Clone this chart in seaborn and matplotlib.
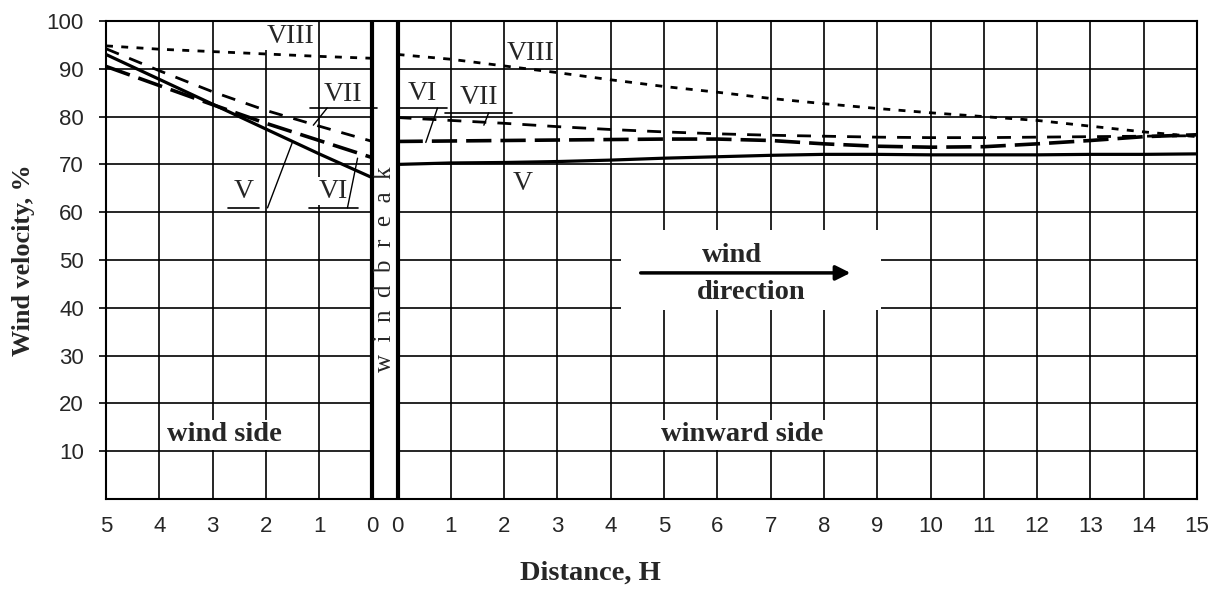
import numpy as np
import pandas as pd
import matplotlib.pyplot as plt
import seaborn as sns
from matplotlib.patches import Rectangle

# distances in tree heights (H) on both sides of the windbreak
distance_lee = [5, 4, 3, 2, 1, 0]
distance_wind = list(range(16))
curve_names = ["V", "VI", "VII", "VIII"]

# wind velocity, % - "wind side" (left of the windbreak)
lee_V = [93.0, 87.8, 82.6, 77.4, 72.2, 67.2]
lee_VI = [90.5, 86.5, 82.5, 78.6, 75.0, 71.4]
lee_VII = [94.2, 89.6, 85.2, 81.3, 78.0, 74.8]
lee_VIII = [94.8, 94.1, 93.6, 93.1, 92.6, 92.2]

# wind velocity, % - "winward side" (right of the windbreak)
wind_V = [70.0, 70.3, 70.4, 70.6, 70.9, 71.3, 71.6, 71.9, 72.1, 72.1, 72.0, 72.0, 72.0, 72.1, 72.1, 72.2]
wind_VI = [74.8, 74.9, 75.0, 75.1, 75.2, 75.3, 75.3, 75.0, 74.3, 73.8, 73.6, 73.7, 74.3, 75.0, 75.8, 76.2]
wind_VII = [79.8, 79.2, 78.6, 77.9, 77.3, 76.8, 76.4, 76.1, 75.9, 75.7, 75.6, 75.6, 75.7, 75.8, 75.9, 76.0]
wind_VIII = [93.0, 92.0, 90.6, 89.2, 87.7, 86.3, 85.1, 83.8, 82.7, 81.7, 80.8, 80.0, 79.2, 78.0, 76.8, 75.8]

gap = 0.47  # width of the windbreak strip in axis units

rows = []
for name, lee, wind in zip(curve_names, [lee_V, lee_VI, lee_VII, lee_VIII],
                           [wind_V, wind_VI, wind_VII, wind_VIII]):
    for d, v in zip(distance_lee, lee):
        rows.append((name, "lee", -d, v))
    for d, v in zip(distance_wind, wind):
        rows.append((name, "wind", gap + d, v))
df = pd.DataFrame(rows, columns=["curve", "side", "x", "velocity"])

sns.set_style("white")
plt.rcParams["font.family"] = ["Liberation Serif", "DejaVu Serif"]
tick_font = ["Liberation Sans Narrow", "Liberation Sans", "DejaVu Sans"]

fig = plt.figure(figsize=(12.17, 5.89), dpi=100)
ax = fig.add_axes([106 / 1217, 1 - 499 / 589, 1091 / 1217, 478 / 589])

styles = {
    "V": dict(linewidth=2.3, linestyle="-"),
    "VI": dict(linewidth=2.6, linestyle=(0, (7, 2.5))),
    "VII": dict(linewidth=2.0, linestyle=(0, (5, 4))),
    "VIII": dict(linewidth=2.0, linestyle=(0, (2.5, 3))),
}

for (name, side), part in df.groupby(["curve", "side"]):
    sns.lineplot(data=part, x="x", y="velocity", color="black", ax=ax,
                 legend=False, zorder=3, **styles[name])

ax.set_xlim(-5, gap + 15)
ax.set_ylim(0, 100)
xticks = [-d for d in distance_lee] + [gap + d for d in distance_wind]
xlabels = [str(d) for d in distance_lee] + [str(d) for d in distance_wind]
ax.set_xticks(xticks)
ax.set_xticklabels(xlabels, family=tick_font, fontsize=16)
ax.set_yticks(range(10, 101, 10))
ax.set_yticklabels([str(v) for v in range(10, 101, 10)], family=tick_font, fontsize=16)
ax.tick_params(axis="x", length=0, pad=12)
ax.tick_params(axis="y", length=5, width=1.2, pad=11, color="black", left=True)

ax.set_axisbelow(True)
ax.grid(True, color="black", linewidth=1.2)
for s in ax.spines.values():
    s.set_color("black")
    s.set_linewidth(1.5)

# windbreak strip
ax.axvspan(0, gap, color="white", zorder=1.5)
ax.axvline(0, color="black", linewidth=3, zorder=2.5)
ax.axvline(gap, color="black", linewidth=3, zorder=2.5)
ax.text(gap / 2, 48, "w  i  n  d  b  r  e  a  k", rotation=90, ha="center", va="center",
        fontsize=18, zorder=2.6)

ax.set_xlabel("Distance, H", fontsize=20.5, fontweight="bold", labelpad=17,
              x=(590 - 106) / 1091)
ax.set_ylabel("Wind velocity, %", fontsize=18.8, fontweight="bold", labelpad=8)

box = dict(facecolor="white", edgecolor="none", pad=2)
ax.text(-2.78, 13.4, "wind side", ha="center", va="center", fontsize=20.5,
        fontweight="bold", bbox=box, zorder=2)
ax.text(6.94, 13.4, "winward side", ha="center", va="center", fontsize=20.5,
        fontweight="bold", bbox=box, zorder=2)

# wind direction note on a white patch
ax.add_patch(Rectangle((4.66, 39.5), 4.89, 16.8, facecolor="white", edgecolor="none", zorder=1.8))
ax.text(6.75, 51.0, "wind", ha="center", va="center", fontsize=20.5, fontweight="bold", zorder=2)
ax.text(7.1, 43.2, "direction", ha="center", va="center", fontsize=20.5, fontweight="bold", zorder=2)
ax.annotate("", xy=(9.02, 47.3), xytext=(4.98, 47.3),
            arrowprops=dict(arrowstyle="-|>", color="black", lw=2.5, mutation_scale=22),
            zorder=4)

# curve labels
lab = dict(ha="center", va="center", fontsize=20, bbox=dict(facecolor="white", edgecolor="none", pad=1),
           zorder=2)
ax.text(-1.54, 96.8, "VIII", **lab)
ax.text(2.97, 93.3, "VIII", **lab)
ax.text(2.82, 66.0, "V", **lab)

labelled = [
    ("VII", -0.55, 84.7, (-0.85, 81.8), (-1.11, 78.2)),
    ("V", -2.42, 64.4, (-1.97, 60.9), (-1.50, 74.7)),
    ("VI", -0.73, 64.4, (-0.47, 60.9), (-0.28, 71.3)),
    ("VI", 0.94, 84.9, (1.22, 81.8), (1.00, 74.6)),
    ("VII", 1.99, 83.9, (2.18, 80.8), (2.09, 78.2)),
]
for txt, tx, ty, p0, p1 in labelled:
    ax.text(tx, ty, txt, **lab)
    half = 0.12 + 0.17 * len(txt)
    ax.plot([tx - half, tx + half], [p0[1], p0[1]], color="black", lw=1.2, zorder=3)
    ax.plot([p0[0], p1[0]], [p0[1], p1[1]], color="black", lw=1.0, zorder=3)

fig.savefig("out.png", dpi=100)
